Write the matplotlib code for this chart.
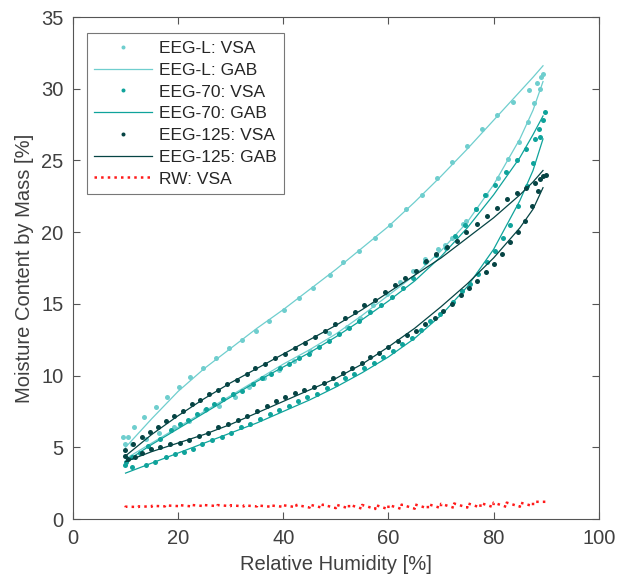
import numpy as np
import matplotlib.pyplot as plt

plt.rcParams['font.family'] = ['Liberation Sans', 'DejaVu Sans']

# --- measured VSA points (RH %, moisture content %) ---
eegl_des_rh = [89.4, 89.0, 88.2, 86.7, 83.7, 80.6, 77.8, 75.0, 72.1, 69.2, 66.3, 63.3, 60.3, 57.4, 54.4,
               51.3, 48.9, 45.6, 43.0, 40.1, 37.3, 34.8, 32.1, 29.7, 27.2, 24.7, 22.3, 20.1, 17.8, 15.8,
               13.5, 11.6, 10.5, 9.5]
eegl_des_mc = [31.0, 30.8, 30.4, 29.9, 29.1, 28.2, 27.2, 26.0, 24.9, 23.8, 22.6, 21.6, 20.5, 19.6, 18.7,
               17.9, 17.0, 16.1, 15.4, 14.6, 13.8, 13.1, 12.5, 11.9, 11.2, 10.5, 9.9, 9.2, 8.5, 7.8,
               7.1, 6.4, 5.7, 5.7]
eegl_ads_rh = [9.9, 11.2, 13.8, 16.3, 19.2, 22.1, 25.1, 27.8, 30.8, 33.5, 36.3, 39.2, 42.0, 45.0, 48.7,
               52.1, 54.5, 57.0, 59.7, 62.2, 64.6, 67.0, 69.4, 70.7, 72.1, 74.1, 74.7, 76.6, 78.5, 80.8,
               82.7, 84.8, 86.5, 87.6, 88.8]
eegl_ads_mc = [5.2, 5.2, 5.6, 6.0, 6.4, 6.8, 7.6, 7.9, 8.5, 9.2, 9.8, 10.4, 11.0, 11.7, 13.0,
               13.4, 14.0, 14.9, 15.7, 16.5, 17.3, 18.1, 18.8, 19.1, 19.6, 20.6, 20.8, 21.6, 22.6, 23.8,
               25.1, 26.3, 27.7, 29.0, 30.0]

eeg70_des_rh = [89.7, 89.4, 88.6, 87.8, 86.1, 84.4, 82.3, 80.2, 78.3, 76.6, 74.5, 72.6, 70.9, 69.0, 66.9,
                64.6, 62.7, 60.6, 58.6, 56.5, 54.4, 52.5, 50.6, 48.7, 46.8, 44.9, 43.0, 41.1, 39.4, 37.6,
                35.9, 34.2, 32.1, 30.4, 28.5, 26.8, 25.3, 23.6, 21.9, 20.3, 18.6, 16.5, 14.2, 12.7, 11.2,
                10.0]
eeg70_des_mc = [28.4, 27.8, 27.2, 26.5, 25.8, 25.0, 24.2, 23.3, 22.6, 21.6, 20.5, 19.7, 18.9, 18.4, 17.9,
                16.8, 16.1, 15.5, 14.9, 14.4, 13.8, 13.3, 12.9, 12.4, 12.0, 11.5, 11.2, 10.8, 10.5, 10.1,
                9.8, 9.4, 8.9, 8.7, 8.4, 8.0, 7.7, 7.3, 6.9, 6.6, 6.2, 5.6, 5.1, 4.6, 4.3,
                4.0]
eeg70_ads_rh = [9.9, 11.2, 13.9, 15.6, 17.7, 19.4, 21.1, 22.8, 24.5, 26.4, 28.3, 30.0, 32.0, 33.7, 35.6,
                37.4, 39.2, 41.0, 42.8, 44.5, 46.4, 48.3, 50.0, 51.7, 53.4, 55.3, 57.2, 58.9, 60.8, 62.6,
                64.4, 66.2, 68.0, 69.8, 72.2, 74.0, 75.5, 77.0, 78.7, 80.2, 81.7, 83.1, 84.6, 86.3, 87.5,
                88.8]
eeg70_ads_mc = [3.8, 3.6, 3.8, 4.0, 4.3, 4.5, 4.7, 4.9, 5.2, 5.5, 5.7, 6.0, 6.4, 6.6, 7.0,
                7.3, 7.6, 7.9, 8.2, 8.5, 8.7, 9.1, 9.4, 9.8, 10.1, 10.5, 10.9, 11.3, 11.7, 12.2,
                12.6, 13.2, 13.8, 14.3, 15.1, 15.9, 16.4, 17.1, 17.9, 18.7, 19.6, 20.5, 21.8, 23.2, 24.8,
                26.6]

eeg125_des_rh = [9.9, 11.5, 13.1, 14.6, 16.1, 17.7, 19.2, 20.9, 22.6, 24.1, 25.9, 27.6, 29.3, 31.2, 33.1,
                 34.6, 36.5, 38.4, 40.3, 42.2, 44.1, 46.0, 47.9, 49.8, 51.7, 53.6, 55.3, 57.4, 59.3, 61.2,
                 63.1, 65.2, 67.1, 69.1, 71.1, 73.0, 74.7, 76.8, 78.7, 80.6, 82.5, 84.4, 86.2, 87.8, 88.8,
                 89.4, 89.9]
eeg125_des_mc = [4.8, 5.2, 5.7, 6.1, 6.4, 6.8, 7.2, 7.5, 8.0, 8.3, 8.7, 9.0, 9.4, 9.7, 10.1,
                 10.5, 10.8, 11.2, 11.5, 11.9, 12.3, 12.7, 13.1, 13.6, 14.0, 14.4, 14.9, 15.3, 15.8, 16.3,
                 16.8, 17.3, 18.0, 18.5, 19.0, 19.4, 20.0, 20.6, 21.1, 21.7, 22.3, 22.7, 23.1, 23.4, 23.7,
                 23.9, 24.0]
eeg125_ads_rh = [9.9, 10.5, 11.8, 13.1, 14.8, 16.5, 18.4, 20.3, 22.1, 24.0, 25.7, 27.6, 29.5, 31.4, 33.1,
                 35.0, 36.9, 38.6, 40.3, 42.2, 43.9, 45.8, 47.7, 49.4, 51.3, 53.0, 54.9, 56.5, 58.2, 59.9,
                 61.8, 63.5, 65.2, 66.9, 68.8, 70.3, 72.1, 73.8, 75.3, 76.8, 78.5, 80.0, 81.6, 83.1, 84.6,
                 85.9, 87.3, 88.4]
eeg125_ads_mc = [4.4, 4.2, 4.3, 4.6, 4.9, 5.0, 5.2, 5.3, 5.5, 5.8, 6.0, 6.4, 6.6, 6.9, 7.2,
                 7.5, 7.9, 8.2, 8.5, 8.8, 9.0, 9.2, 9.5, 9.8, 10.2, 10.5, 10.9, 11.3, 11.6, 12.0,
                 12.4, 12.8, 13.1, 13.6, 14.0, 14.5, 15.0, 15.6, 16.1, 16.6, 17.2, 17.8, 18.5, 19.3, 20.0,
                 20.8, 21.8, 22.9]

# --- GAB fitted curves ---
gab_rh = [10, 15, 20, 25, 30, 35, 40, 45, 50, 55, 60, 65, 70, 75, 80, 85, 87.5, 89.4]
eegl_gab_des = [5.0, 7.0, 8.9, 10.5, 11.9, 13.3, 14.6, 16.0, 17.4, 18.9, 20.4, 22.1, 23.9, 25.8, 27.8, 29.8, 30.8, 31.6]
eegl_gab_ads = [4.2, 5.3, 6.4, 7.5, 8.6, 9.7, 10.8, 11.8, 12.9, 14.2, 15.6, 17.0, 18.7, 20.7, 23.3, 26.5, 28.5, 30.5]
eeg70_gab_des = [4.0, 5.2, 6.3, 7.4, 8.5, 9.6, 10.6, 11.6, 12.7, 13.9, 15.2, 16.6, 18.3, 20.3, 22.6, 25.2, 26.8, 28.1]
eeg70_gab_ads = [3.2, 3.9, 4.6, 5.3, 6.0, 6.7, 7.5, 8.3, 9.2, 10.2, 11.3, 12.6, 14.2, 16.2, 18.8, 22.2, 24.3, 26.5]
eeg125_gab_des = [4.4, 5.9, 7.2, 8.4, 9.5, 10.5, 11.5, 12.5, 13.5, 14.6, 15.8, 17.0, 18.2, 19.6, 21.0, 22.6, 23.5, 24.3]
eeg125_gab_ads = [4.0, 4.7, 5.3, 5.9, 6.6, 7.4, 8.2, 9.0, 9.8, 10.8, 12.0, 13.3, 14.8, 16.4, 18.2, 20.3, 21.6, 23.1]

# --- RW (reference wood) VSA ---
rw_rh = [10, 12.5, 15, 17.5, 20, 22.5, 25, 27.5, 30, 32.5, 35, 37.5, 40, 42.5, 45, 47.5, 50,
         52.5, 55, 57.5, 60, 62.5, 65, 67.5, 70, 72.5, 75, 77.5, 80, 82.5, 85, 87.5, 90]
rw_ads = [0.82, 0.84, 0.86, 0.88, 0.90, 0.88, 0.90, 0.90, 0.90, 0.88, 0.88, 0.86, 0.85, 0.82, 0.80, 0.78, 0.76,
          0.74, 0.72, 0.70, 0.68, 0.70, 0.72, 0.74, 0.76, 0.78, 0.80, 0.80, 0.82, 0.84, 0.86, 0.90, 1.20]
rw_des = [0.86, 0.88, 0.92, 0.95, 0.98, 0.98, 0.97, 0.97, 0.96, 0.95, 0.95, 0.95, 0.96, 0.98, 1.00, 1.00, 1.00,
          1.00, 0.98, 0.98, 0.98, 1.00, 1.02, 1.04, 1.06, 1.08, 1.10, 1.12, 1.14, 1.14, 1.15, 1.20, 1.35]

c_l = '#6FCECE'
c_70 = '#0FA39B'
c_125 = '#064444'
c_rw = '#FF1A1A'

fig = plt.figure(figsize=(6.2, 5.81), dpi=100)
ax = fig.add_axes([0.1177, 0.1067, 0.848, 0.864])

ms = 3.6
ax.plot(eegl_des_rh + eegl_ads_rh, eegl_des_mc + eegl_ads_mc, 'o', color=c_l, ms=ms, mew=0,
        label='EEG-L: VSA')
ax.plot(gab_rh, eegl_gab_des, '-', color=c_l, lw=0.9, label='EEG-L: GAB')
ax.plot(gab_rh, eegl_gab_ads, '-', color=c_l, lw=0.9)
ax.plot(eeg70_des_rh + eeg70_ads_rh, eeg70_des_mc + eeg70_ads_mc, 'o', color=c_70, ms=ms, mew=0,
        label='EEG-70: VSA')
ax.plot(gab_rh, eeg70_gab_des, '-', color=c_70, lw=0.9, label='EEG-70: GAB')
ax.plot(gab_rh, eeg70_gab_ads, '-', color=c_70, lw=0.9)
ax.plot(eeg125_des_rh + eeg125_ads_rh, eeg125_des_mc + eeg125_ads_mc, 'o', color=c_125, ms=ms, mew=0,
        label='EEG-125: VSA')
ax.plot(gab_rh, eeg125_gab_des, '-', color=c_125, lw=0.9, label='EEG-125: GAB')
ax.plot(gab_rh, eeg125_gab_ads, '-', color=c_125, lw=0.9)

# RW zig-zags between adsorption and desorption readings
rw_x = np.repeat(rw_rh, 2)
rw_y = np.column_stack([rw_ads, rw_des]).ravel()
ax.plot(rw_x, rw_y, ':', color=c_rw, lw=1.8, label='RW: VSA')

ax.set_xlim(0, 100)
ax.set_ylim(0, 35)
ax.set_xticks(range(0, 101, 20))
ax.set_yticks(range(0, 36, 5))
ax.tick_params(direction='in', length=5, width=0.8, top=True, right=True,
               labelsize=14.5, colors='#555555', labelcolor='#404040', pad=7)
for s in ax.spines.values():
    s.set_color('#555555')
    s.set_linewidth(0.8)
ax.set_xlabel('Relative Humidity [%]', fontsize=14.5, color='#404040', labelpad=5)
ax.set_ylabel('Moisture Content by Mass [%]', fontsize=14.5, color='#404040', labelpad=5)

leg = ax.legend(loc='upper left', bbox_to_anchor=(0.026, 0.968), fontsize=12.5, frameon=True,
                fancybox=False, edgecolor='#555555', handlelength=3.3, handletextpad=0.4,
                labelspacing=0.38, borderpad=0.45, borderaxespad=0, markerscale=0.8)
leg.get_frame().set_linewidth(0.8)
for t in leg.get_texts():
    t.set_color('#262626')

fig.savefig('out.png', dpi=100)
